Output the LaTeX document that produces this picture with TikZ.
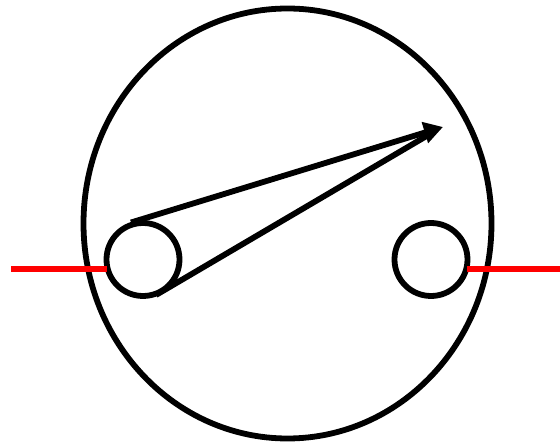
\documentclass[tikz,border=0pt]{standalone}
\usetikzlibrary{arrows.meta,shapes.geometric}
\definecolor{wirered}{RGB}{255,0,0}
\tikzset{
  x=1pt,y=-1pt,
  outline/.style={draw=black,line width=5.8pt,inner sep=0pt,fill=none},
  wire/.style={draw=wirered,line width=6pt},
  pointer/.style={draw=black,line width=5.8pt},
  headed/.style={pointer,-{Triangle[length=19pt,width=21pt]}}
}
\begin{document}
\begin{tikzpicture}
\useasboundingbox (0,0) rectangle (560,443);
\node[outline,ellipse,minimum width=408pt,minimum height=430pt] (body) at (287.5,223.5) {};
\node[outline,circle,minimum size=73pt] (c1) at (143,259.5) {};
\node[outline,circle,minimum size=73pt] (c2) at (431,259.5) {};
\coordinate (wl) at (11,269);
\coordinate (wr) at (560,269);
\coordinate (wlend) at (107,269);
\coordinate (wrend) at (467,269);
\coordinate (tip) at (443,127);
\coordinate (tipb) at (430,134);
\coordinate (p1) at (131,222.5);
\coordinate (p2) at (156,295);
\draw[headed] (p1) -- (tip);
\draw[pointer] (p2) -- (tipb);
\draw[wire] (wl) -- (wlend);
\draw[wire] (wrend) -- (wr);
\end{tikzpicture}
\end{document}
